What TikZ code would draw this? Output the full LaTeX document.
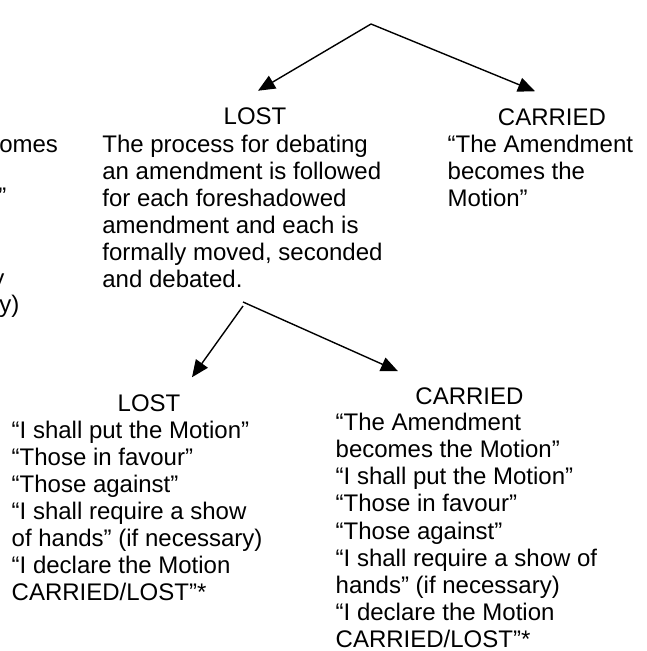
\documentclass[tikz,border=0pt]{standalone}
\usepackage{fontspec}
\setmainfont{Liberation Sans}
\usetikzlibrary{arrows.meta}
\begin{document}
\begin{tikzpicture}[>={Triangle[length=17pt,width=14.5pt]},line width=1.4pt,x=1pt,y=-1pt,font=\fontsize{24pt}{27.1pt}\selectfont,
	head/.style={anchor=base,inner sep=0pt,outer ysep=17pt},
	body/.style={anchor=base west,inner sep=0pt,align=left},
	frag/.style={anchor=base east,inner sep=0pt}]
	\useasboundingbox (0,0) rectangle (646,651);
	\clip (0,0) rectangle (646,651);
	\node[frag] (fragA) at (58.7,152) {omes};
	\node[frag] (fragB) at (7,204) {”};
	\node[frag] (fragC) at (5,286) {y};
	\node[frag] (fragD) at (20,312) {y)};
	\node[head] (lost1) at (255,124.5) {LOST};
	\node[body] (lostbody1) at (101.7,287.5) {The process for debating\\an amendment is followed\\for each foreshadowed\\amendment and each is\\formally moved, seconded\\and debated.};
	\node[head] (carried1) at (552,125) {CARRIED};
	\node[body] (carriedbody1) at (447,206.2) {“The Amendment\\becomes the\\Motion”};
	\node[head] (lost2) at (149,411) {LOST};
	\node[body] (lostbody2) at (11,600.6) {“I shall put the Motion”\\“Those in favour”\\“Those against”\\“I shall require a show\\of hands” (if necessary)\\“I declare the Motion\\CARRIED/LOST”*};
	\node[head] (carried2) at (469.5,404) {CARRIED};
	\node[body] (carriedbody2) at (335,647.4) {“The Amendment\\becomes the Motion”\\“I shall put the Motion”\\“Those in favour”\\“Those against”\\“I shall require a show of\\hands” (if necessary)\\“I declare the Motion\\CARRIED/LOST”*};
	\coordinate (split1) at (371,24);
	\coordinate (split2) at (243,302);
	\draw[->] (split1) -- ([xshift=3pt]lost1.north);
	\draw[->] (split1) -- ([xshift=-17pt]carried1.north);
	\draw[->] ([yshift=-4pt]split2) -- ([xshift=43pt]lost2.north);
	\draw[->] (split2) -- ([xshift=-71.5pt,yshift=-1pt]carried2.north);
\end{tikzpicture}
\end{document}
